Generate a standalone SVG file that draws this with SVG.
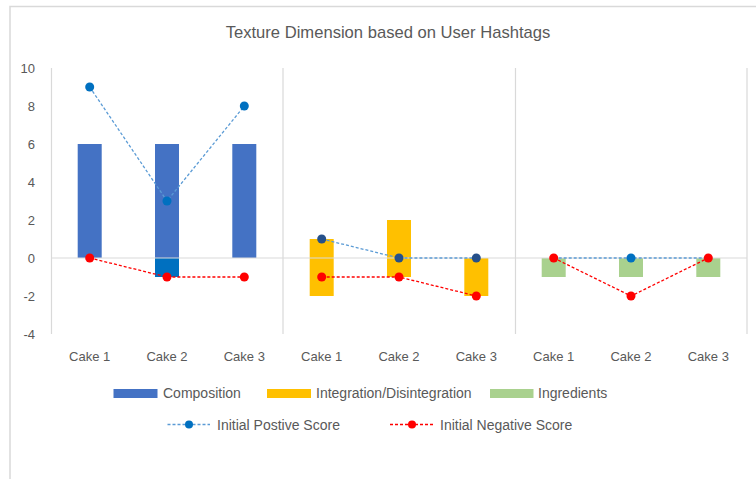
<svg xmlns="http://www.w3.org/2000/svg" width="756" height="479" viewBox="0 0 756 479">
  <style>
    text { font-family: "Liberation Sans", Arial, sans-serif; fill: #595959; }
    .title { font-size: 16.6px; }
    .tick { font-size: 13px; text-anchor: end; }
    .cat { font-size: 13px; text-anchor: middle; }
    .leg { font-size: 14px; }
    .frame { stroke: #d9d9d9; stroke-width: 1.5; fill: none; }
    .grid { stroke: #d9d9d9; stroke-width: 1.2; fill: none; }
    .comp { fill: #4472c4; }
    .compneg { fill: #0070c0; }
    .integ { fill: #ffc000; }
    .ingr { fill: #a9d18e; }
    .pos { stroke: #5b9bd5; stroke-width: 1.3; stroke-dasharray: 3 2; fill: none; }
    .neg { stroke: #ff0000; stroke-width: 1.3; stroke-dasharray: 3 2; fill: none; }
    .posdot { fill: #0070c0; }
    .posdot2 { fill: #25508a; }
    .negdot { fill: #ff0000; }
  </style>

  <rect x="0" y="0" width="756" height="479" fill="#ffffff"/>
  <!-- chart frame (top and left edges) -->
  <path class="frame" d="M10 479 V6.5 H756"/>

  <text class="title" x="388" y="38" text-anchor="middle">Texture Dimension based on User Hashtags</text>

  <!-- value axis labels -->
  <g id="y-axis">
    <text class="tick" x="35" y="73">10</text>
    <text class="tick" x="35" y="111">8</text>
    <text class="tick" x="35" y="149">6</text>
    <text class="tick" x="35" y="187">4</text>
    <text class="tick" x="35" y="225">2</text>
    <text class="tick" x="35" y="263">0</text>
    <text class="tick" x="35" y="301">-2</text>
    <text class="tick" x="35" y="339">-4</text>
  </g>

  <!-- group separators -->
  <g id="separators">
    <line class="grid" x1="51.5" y1="68" x2="51.5" y2="334"/>
    <line class="grid" x1="283" y1="68" x2="283" y2="334"/>
    <line class="grid" x1="515.5" y1="68" x2="515.5" y2="334"/>
    <line class="grid" x1="747" y1="68" x2="747" y2="334"/>
  </g>

  <!-- bars -->
  <g id="composition">
    <rect class="comp" x="77.7" y="144" width="24" height="114"/>
    <rect class="comp" x="155" y="144" width="24" height="114"/>
    <rect class="compneg" x="155" y="258" width="24" height="19"/>
    <rect class="comp" x="232.3" y="144" width="24" height="114"/>
  </g>
  <g id="integration">
    <rect class="integ" x="309.7" y="239" width="24" height="57"/>
    <rect class="integ" x="387" y="220" width="24" height="57"/>
    <rect class="integ" x="464.3" y="258" width="24" height="38"/>
  </g>
  <g id="ingredients">
    <rect class="ingr" x="541.7" y="258" width="24" height="19"/>
    <rect class="ingr" x="619" y="258" width="24" height="19"/>
    <rect class="ingr" x="696.3" y="258" width="24" height="19"/>
  </g>

  <!-- zero line -->
  <line class="grid" x1="51" y1="258" x2="747" y2="258"/>

  <!-- score lines -->
  <g id="connectors">
    <polyline class="pos" points="89.7,87 167,201 244.3,106"/>
    <polyline class="pos" points="321.7,239 399,258 476.3,258"/>
    <polyline class="pos" points="553.7,258 631,258 708.3,258"/>
    <polyline class="neg" points="89.7,258 167,277 244.3,277"/>
    <polyline class="neg" points="321.7,277 399,277 476.3,296"/>
    <polyline class="neg" points="553.7,258 631,296 708.3,258"/>
  </g>

  <g id="positive-markers">
    <circle class="posdot" cx="89.7" cy="87" r="4.5"/>
    <circle class="posdot" cx="167" cy="201" r="4.5"/>
    <circle class="posdot" cx="244.3" cy="106" r="4.5"/>
    <circle class="posdot2" cx="321.7" cy="239" r="4.5"/>
    <circle class="posdot2" cx="399" cy="258" r="4.5"/>
    <circle class="posdot2" cx="476.3" cy="258" r="4.5"/>
    <circle class="posdot" cx="631" cy="258" r="4.5"/>
  </g>
  <g id="negative-markers">
    <circle class="negdot" cx="89.7" cy="258" r="4.5"/>
    <circle class="negdot" cx="167" cy="277" r="4.5"/>
    <circle class="negdot" cx="244.3" cy="277" r="4.5"/>
    <circle class="negdot" cx="321.7" cy="277" r="4.5"/>
    <circle class="negdot" cx="399" cy="277" r="4.5"/>
    <circle class="negdot" cx="476.3" cy="296" r="4.5"/>
    <circle class="negdot" cx="553.7" cy="258" r="4.5"/>
    <circle class="negdot" cx="631" cy="296" r="4.5"/>
    <circle class="negdot" cx="708.3" cy="258" r="4.5"/>
  </g>

  <!-- category labels -->
  <g id="x-axis">
    <text class="cat" x="89.7" y="361">Cake 1</text>
    <text class="cat" x="167" y="361">Cake 2</text>
    <text class="cat" x="244.3" y="361">Cake 3</text>
    <text class="cat" x="321.7" y="361">Cake 1</text>
    <text class="cat" x="399" y="361">Cake 2</text>
    <text class="cat" x="476.3" y="361">Cake 3</text>
    <text class="cat" x="553.7" y="361">Cake 1</text>
    <text class="cat" x="631" y="361">Cake 2</text>
    <text class="cat" x="708.3" y="361">Cake 3</text>
  </g>

  <!-- legend -->
  <g id="legend">
    <rect class="comp" x="113.5" y="389" width="44" height="9"/>
    <text class="leg" x="163" y="398">Composition</text>
    <rect class="integ" x="267" y="389" width="44" height="9"/>
    <text class="leg" x="316" y="398">Integration/Disintegration</text>
    <rect class="ingr" x="490" y="389" width="43.5" height="9"/>
    <text class="leg" x="538" y="398">Ingredients</text>

    <line class="pos" x1="167.5" y1="424.5" x2="210" y2="424.5"/>
    <circle class="posdot" cx="189" cy="424.5" r="4"/>
    <text class="leg" x="217" y="429.5">Initial Postive Score</text>
    <line class="neg" x1="390" y1="424.5" x2="434" y2="424.5"/>
    <circle class="negdot" cx="412" cy="424.5" r="4"/>
    <text class="leg" x="440" y="429.5">Initial Negative Score</text>
  </g>
</svg>
